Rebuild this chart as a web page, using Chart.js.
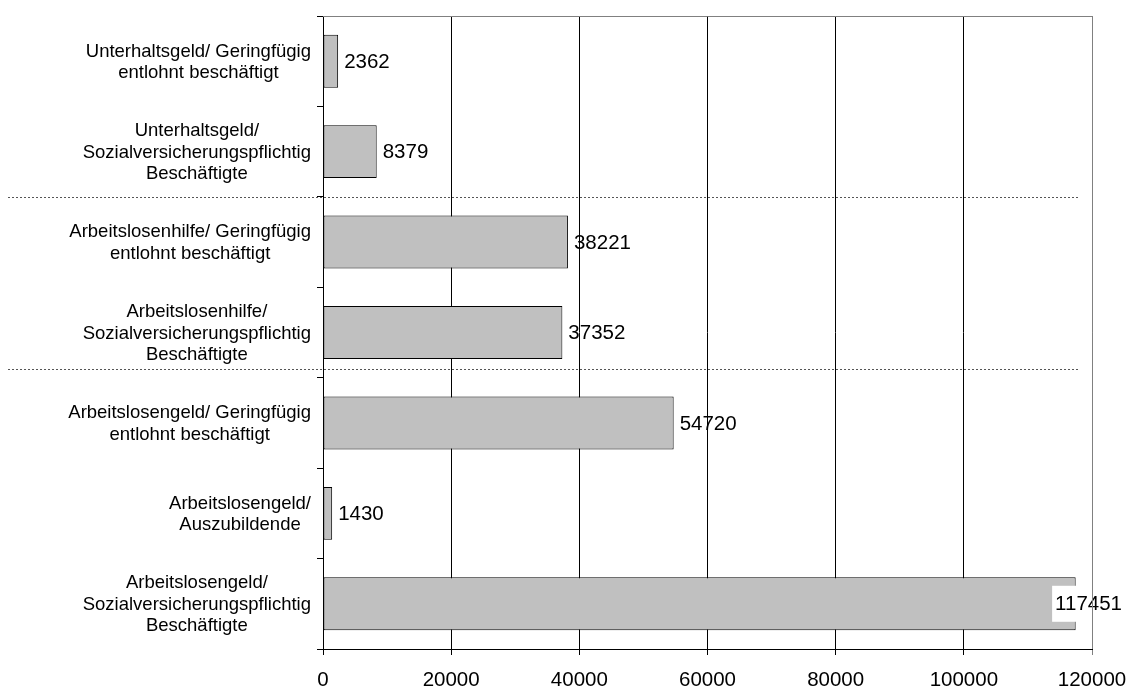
<!DOCTYPE html>
<html lang="de">
<head>
<meta charset="utf-8">
<title>Leistungsbezieher nach Beschäftigungsart</title>
<script src="https://cdn.jsdelivr.net/npm/chart.js@4/dist/chart.umd.min.js"></script>
<style>
  html, body { margin: 0; padding: 0; background: #ffffff; }
  #wrap { width: 1131px; height: 687px; }
</style>
</head>
<body>
<div id="wrap"><canvas id="chart" width="1131" height="687"></canvas></div>
<script>
// Categories, top to bottom (each label split into its display lines)
const categories = [
  ['Unterhaltsgeld/ Geringfügig', 'entlohnt beschäftigt'],
  ['Unterhaltsgeld/', 'Sozialversicherungspflichtig', 'Beschäftigte'],
  ['Arbeitslosenhilfe/ Geringfügig', 'entlohnt beschäftigt'],
  ['Arbeitslosenhilfe/', 'Sozialversicherungspflichtig', 'Beschäftigte'],
  ['Arbeitslosengeld/ Geringfügig', 'entlohnt beschäftigt'],
  ['Arbeitslosengeld/', 'Auszubildende'],
  ['Arbeitslosengeld/', 'Sozialversicherungspflichtig', 'Beschäftigte']
];

// Number of persons per category
const values = [2362, 8379, 38221, 37352, 54720, 1430, 117451];

// Value axis ticks
const xTicks = [0, 20000, 40000, 60000, 80000, 100000, 120000];

// Dotted separators between benefit groups, in category units
const groupSeparators = [1.5, 3.4];

const FONT = "'Liberation Sans', Arial, Helvetica, sans-serif";

// Category labels: each label is a block right-aligned next to the axis,
// with its lines centred inside the block
const categoryLabelPlugin = {
  id: 'categoryLabels',
  afterDraw(chart) {
    const { ctx, scales } = chart;
    const yScale = scales.y;
    const lineH = 21.5;
    const right = yScale.right - 12;
    ctx.save();
    ctx.font = '18.5px ' + FONT;
    ctx.fillStyle = '#000000';
    ctx.textAlign = 'center';
    ctx.textBaseline = 'middle';
    yScale.ticks.forEach((t, i) => {
      const lines = categories[i];
      const blockW = Math.max(...lines.map(l => ctx.measureText(l).width));
      const cx = right - blockW / 2;
      const cy = yScale.getPixelForValue(i) + 1;
      lines.forEach((line, k) => {
        ctx.fillText(line, cx, cy + (k - (lines.length - 1) / 2) * lineH);
      });
    });
    ctx.restore();
  }
};

// Grey frame on top and right of the plot, dotted group separators
const framePlugin = {
  id: 'frame',
  afterDraw(chart) {
    const { ctx, chartArea: a, scales } = chart;
    ctx.save();
    ctx.strokeStyle = '#808080';
    ctx.lineWidth = 1;
    ctx.beginPath();
    ctx.moveTo(a.left, Math.round(a.top) + 0.5);
    ctx.lineTo(Math.round(a.right) + 0.5, Math.round(a.top) + 0.5);
    ctx.lineTo(Math.round(a.right) + 0.5, Math.round(a.bottom));
    ctx.stroke();

    ctx.strokeStyle = '#555555';
    ctx.setLineDash([2, 2]);
    groupSeparators.forEach(pos => {
      const y = Math.round(scales.y.getPixelForValue(pos)) + 0.5;
      ctx.beginPath();
      ctx.moveTo(8, y);
      ctx.lineTo(a.right - 12, y);
      ctx.stroke();
    });
    ctx.restore();
  }
};

// Value printed next to each bar end
const valueLabelPlugin = {
  id: 'valueLabels',
  afterDatasetsDraw(chart) {
    const { ctx } = chart;
    const meta = chart.getDatasetMeta(0);
    ctx.save();
    ctx.font = '20.5px ' + FONT;
    ctx.textBaseline = 'middle';
    ctx.textAlign = 'left';
    meta.data.forEach((bar, i) => {
      const text = String(values[i]);
      const w = ctx.measureText(text).width;
      let x = bar.x + 6;
      const y = bar.y + 1;
      if (x + w > chart.width - 8) {
        const boxRight = chart.width - 5;
        const boxLeft = boxRight - w - 7;
        ctx.fillStyle = '#ffffff';
        ctx.fillRect(boxLeft, bar.y - 18, boxRight - boxLeft, 36);
        x = boxLeft + 3;
      }
      ctx.fillStyle = '#000000';
      ctx.fillText(text, x, y);
    });
    ctx.restore();
  }
};

new Chart(document.getElementById('chart'), {
  type: 'bar',
  data: {
    labels: categories,
    datasets: [{
      data: values,
      backgroundColor: '#c0c0c0',
      borderColor: '#000000',
      borderWidth: 1,
      borderSkipped: false,
      categoryPercentage: 1.0,
      barPercentage: 0.585
    }]
  },
  options: {
    indexAxis: 'y',
    responsive: false,
    devicePixelRatio: 1,
    animation: false,
    layout: { padding: { top: 16, right: 39, bottom: 0, left: 0 } },
    plugins: {
      legend: { display: false },
      tooltip: { enabled: false }
    },
    scales: {
      x: {
        min: xTicks[0],
        max: xTicks[xTicks.length - 1],
        afterBuildTicks(scale) {
          scale.ticks = xTicks.map(v => ({ value: v }));
        },
        afterFit(scale) {
          scale.height = 38;
          scale.paddingLeft = 0;
          scale.paddingRight = 0;
        },
        ticks: {
          color: '#000000',
          font: { family: FONT, size: 20.5 },
          padding: 13,
          maxRotation: 0,
          callback: v => String(v)
        },
        grid: {
          color: ctx => (ctx.tick && ctx.tick.value === xTicks[xTicks.length - 1]) ? '#808080' : '#000000',
          lineWidth: 1,
          tickLength: 6,
          drawTicks: true
        },
        border: { color: '#000000', width: 1 }
      },
      y: {
        afterFit(scale) {
          scale.width = 323;
          scale.paddingTop = 0;
          scale.paddingBottom = 0;
        },
        ticks: {
          display: false,
          autoSkip: false
        },
        grid: {
          offset: true,
          drawOnChartArea: false,
          drawTicks: true,
          tickLength: 6,
          color: '#000000'
        },
        border: { color: '#000000', width: 1 }
      }
    }
  },
  plugins: [framePlugin, valueLabelPlugin, categoryLabelPlugin]
});
</script>
</body>
</html>
